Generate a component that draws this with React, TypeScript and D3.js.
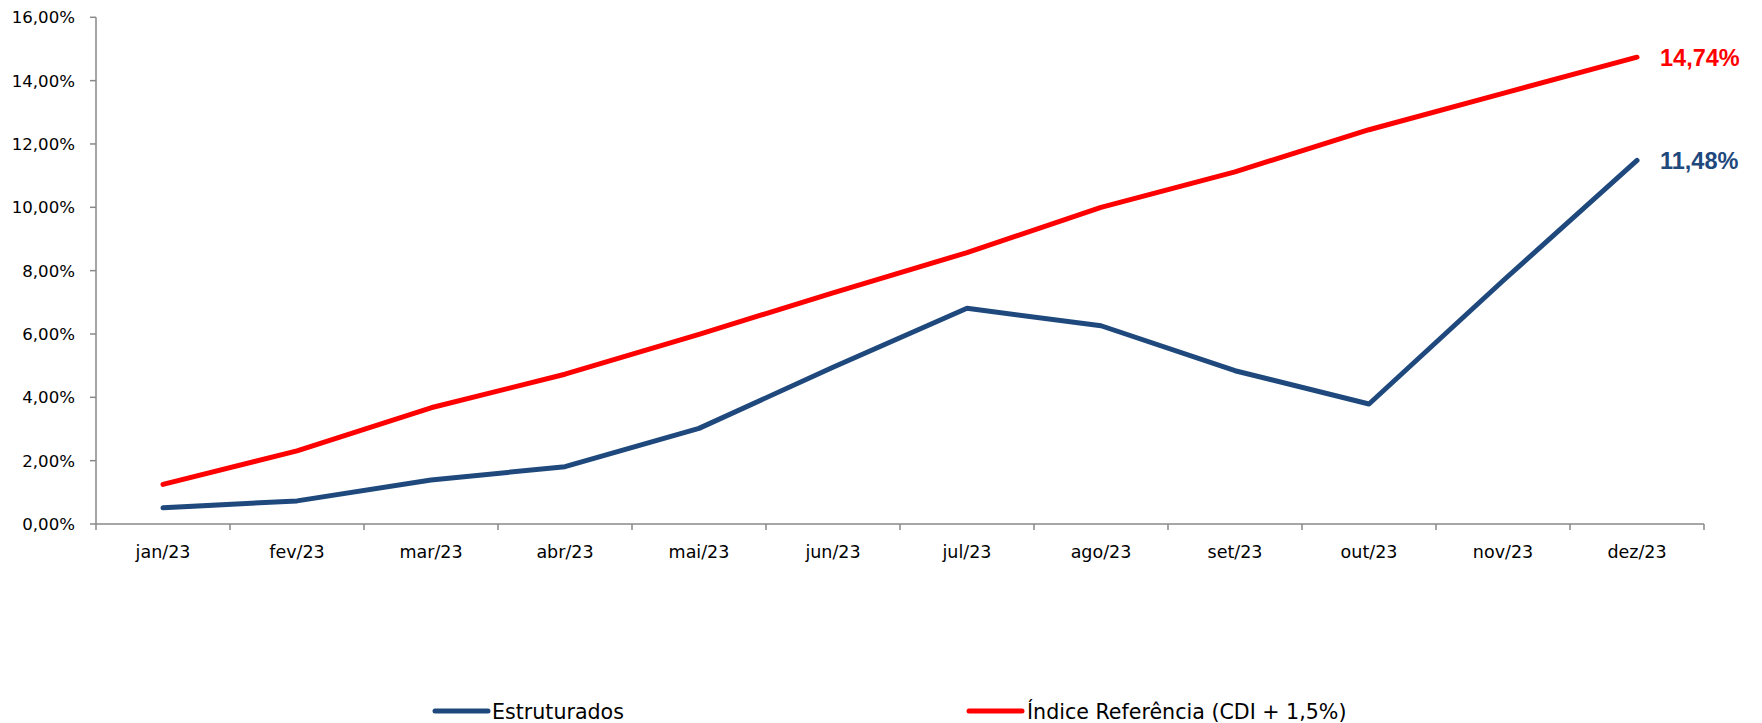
import React from "react";
import * as d3 from "d3";

const categories = ["jan/23", "fev/23", "mar/23", "abr/23", "mai/23", "jun/23", "jul/23", "ago/23", "set/23", "out/23", "nov/23", "dez/23"];
const estruturados = [0.51, 0.73, 1.39, 1.81, 3.02, 4.95, 6.81, 6.26, 4.84, 3.79, 7.68, 11.48];
const indiceReferencia = [1.25, 2.31, 3.67, 4.73, 5.99, 7.3, 8.57, 10.0, 11.12, 12.45, 13.6, 14.74];
const yTicks = [0, 2, 4, 6, 8, 10, 12, 14, 16];
const seriesNames = ["Estruturados", "Índice Referência (CDI + 1,5%)"];
const seriesColors = ["#1F497D", "#FF0000"];

const W = 1762;
const H = 723;
const plot = { left: 96, right: 1704, top: 17.3, bottom: 524 };

const fmt = (v: number) => v.toFixed(2).replace(".", ",") + "%";

export default function App() {
  const x = d3.scaleBand<string>().domain(categories).range([plot.left, plot.right]);
  const y = d3.scaleLinear().domain([0, 16]).range([plot.bottom, plot.top]);
  const cx = (c: string) => (x(c) ?? 0) + x.bandwidth() / 2;
  const line = d3
    .line<number>()
    .x((_, i) => cx(categories[i]))
    .y((d) => y(d));

  const series = [estruturados, indiceReferencia];
  const axisColor = "#898989";
  const font = "'DejaVu Sans', sans-serif";
  const bandEdges = categories.map((c) => x(c) ?? 0).concat([plot.right]);

  const legendItems = [
    { x1: 435, x2: 488, tx: 492 },
    { x1: 969, x2: 1022, tx: 1027 },
  ];

  return (
    <svg width={W} height={H} style={{ position: "absolute", left: 0, top: 0, background: "#fff" }}>
      <rect x={0} y={0} width={W} height={H} fill="#fff" />
      {/* y axis */}
      <line x1={plot.left} x2={plot.left} y1={y(16)} y2={plot.bottom} stroke={axisColor} strokeWidth={1.5} />
      {yTicks.map((t) => (
        <g key={t}>
          <line x1={plot.left - 6} x2={plot.left} y1={y(t)} y2={y(t)} stroke={axisColor} strokeWidth={1.5} />
          <text x={75} y={y(t)} dy="0.36em" textAnchor="end" fontFamily={font} fontSize={16.6} fill="#000">
            {fmt(t)}
          </text>
        </g>
      ))}
      {/* x axis */}
      <line x1={plot.left} x2={plot.right} y1={plot.bottom} y2={plot.bottom} stroke={axisColor} strokeWidth={1.5} />
      {bandEdges.map((e, i) => (
        <line key={i} x1={e} x2={e} y1={plot.bottom} y2={plot.bottom + 6} stroke={axisColor} strokeWidth={1.5} />
      ))}
      {categories.map((c) => (
        <text key={c} x={cx(c)} y={558} textAnchor="middle" fontFamily={font} fontSize={17.5} fill="#000">
          {c}
        </text>
      ))}
      {/* lines */}
      {series.map((s, i) => (
        <path
          key={i}
          d={line(s) ?? ""}
          fill="none"
          stroke={seriesColors[i]}
          strokeWidth={5}
          strokeLinecap="round"
          strokeLinejoin="round"
        />
      ))}
      {/* end labels */}
      {series.map((s, i) => (
        <text
          key={"l" + i}
          x={1660}
          y={y(s[s.length - 1])}
          dy="0.36em"
          fontFamily="'Liberation Sans', Arial, sans-serif"
          fontWeight="bold"
          fontSize={23.5}
          fill={seriesColors[i]}
        >
          {fmt(s[s.length - 1])}
        </text>
      ))}
      {/* legend */}
      {legendItems.map((l, i) => (
        <g key={"lg" + i}>
          <line x1={l.x1} x2={l.x2} y1={711} y2={711} stroke={seriesColors[i]} strokeWidth={5} strokeLinecap="round" />
          <text x={l.tx} y={718.5} fontFamily={font} fontSize={20.6} fill="#000">
            {seriesNames[i]}
          </text>
        </g>
      ))}
    </svg>
  );
}
